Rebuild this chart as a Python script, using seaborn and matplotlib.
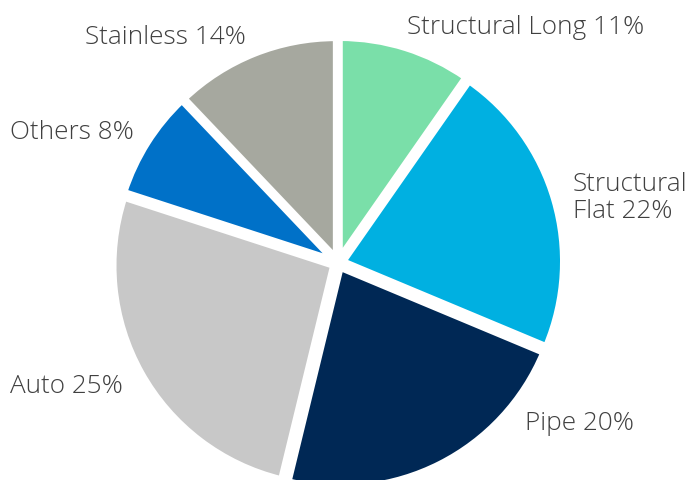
import matplotlib
matplotlib.use("Agg")
import matplotlib.pyplot as plt
import seaborn as sns

# data (wedge sizes as drawn; the labels carry the published rounded shares)
segments = ["Structural Long", "Structural Flat", "Pipe", "Auto", "Others", "Stainless"]
shares = [9.7, 21.6, 22.5, 26.2, 7.9, 12.1]
colors = ["#7ADFA9", "#00B0E1", "#002855", "#C8C8C8", "#0071C8", "#A6A89F"]
label_text = ["Structural Long 11%", "Structural\nFlat 22%", "Pipe 20%",
              "Auto 25%", "Others 8%", "Stainless 14%"]

sns.set_theme(style="white")
plt.rcParams['font.family'] = ['Open Sans', 'DejaVu Sans']

fig = plt.figure(figsize=(6.94, 4.81), dpi=100)
ax = fig.add_axes([0.1386, -0.0516, 0.6969, 1.0056])

wedges, _ = ax.pie(shares, colors=colors, startangle=90, counterclock=False,
                   explode=[0.025] * len(shares),
                   wedgeprops=dict(edgecolor="white", linewidth=4.5))
ax.set_xlim(-1.1, 1.1)
ax.set_ylim(-1.1, 1.1)
ax.set_aspect("equal")
ax.axis("off")

# label anchor points in pixels (left x, center y from top)
label_pos = [(407, 27), (573, 198), (525, 424), (10, 387), (10, 133), (85, 38)]
for txt, (px, py) in zip(label_text, label_pos):
    fig.text(px / 694, 1 - py / 481, txt, ha="left", va="center",
             fontsize=18.8, fontweight="light", color="#404040", linespacing=1.1)

fig.savefig("out.png", dpi=100)
